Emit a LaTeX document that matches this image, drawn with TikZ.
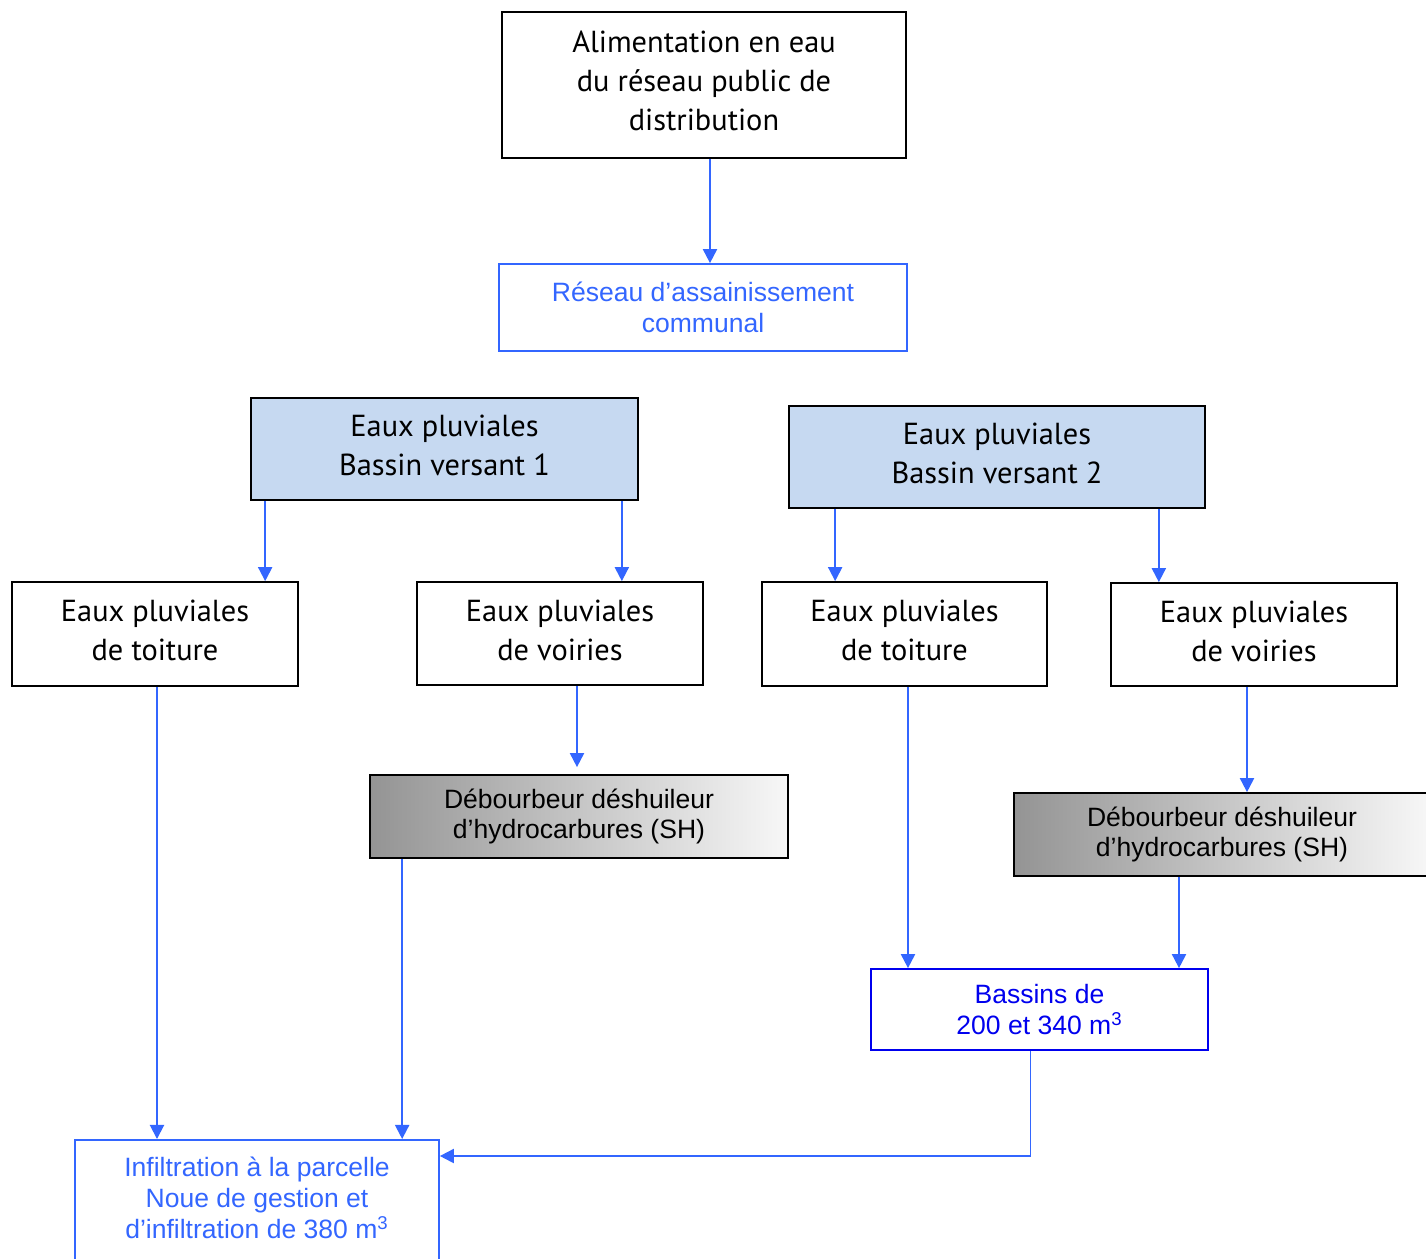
\documentclass[tikz,border=0pt]{standalone}
\usepackage{fontspec}
\setmainfont{Liberation Sans}
\newfontfamily\plainfont{PT Sans}
\usetikzlibrary{arrows.meta,calc}

\definecolor{flowblue}{RGB}{51,102,255}
\definecolor{deepblue}{RGB}{0,0,238}
\definecolor{basinfill}{RGB}{198,217,241}

\begin{document}
\begin{tikzpicture}[x=0.02cm,y=-0.02cm,
 flow/.style={draw=flowblue,line width=1.1pt,-{Triangle[width=8pt,length=8pt]}},
 blackbox/.style={draw,line width=1pt,inner sep=0pt,align=center,
   font=\plainfont\fontsize{17.3}{22}\selectfont},
 catbox/.style={blackbox,fill=basinfill},
 bluebox/.style={draw=flowblue,line width=1pt,inner sep=0pt,align=center,text=flowblue,
   font=\fontsize{15.1}{17.6}\selectfont},
 sepbox/.style={draw,line width=1pt,inner sep=0pt,align=center,
   left color=black!42,right color=black!3,font=\fontsize{15.1}{17.6}\selectfont}]
\useasboundingbox (0,0) rectangle (1426,1258);

\node[blackbox,minimum width=8.08cm,minimum height=2.92cm] (alim) at (704,85)
 {Alimentation en eau\\du réseau public de\\distribution\\[-17pt]};
\node[bluebox,minimum width=8.16cm,minimum height=1.74cm] (reseau) at (703,307.5)
 {Réseau d’assainissement\\communal};

\node[catbox,minimum width=7.74cm,minimum height=2.04cm] (bv1) at (444.5,449)
 {Eaux pluviales\\Bassin versant 1\\[-18pt]};
\node[catbox,minimum width=8.32cm,minimum height=2.04cm] (bv2) at (997,457)
 {Eaux pluviales\\Bassin versant 2\\[-18pt]};

\node[blackbox,minimum width=5.72cm,minimum height=2.08cm] (toit1) at (155,634)
 {Eaux pluviales\\de toiture\\[-18pt]};
\node[blackbox,minimum width=5.72cm,minimum height=2.06cm] (voir1) at (560,633.5)
 {Eaux pluviales\\de voiries\\[-18pt]};
\node[blackbox,minimum width=5.70cm,minimum height=2.08cm] (toit2) at (904.5,634)
 {Eaux pluviales\\de toiture\\[-18pt]};
\node[blackbox,minimum width=5.72cm,minimum height=2.06cm] (voir2) at (1254,634.5)
 {Eaux pluviales\\de voiries\\[-18pt]};

\node[sepbox,minimum width=8.36cm,minimum height=1.66cm] (deb1) at (579,816.5)
 {Débourbeur déshuileur\\d’hydrocarbures (SH)};
\node[sepbox,minimum width=8.32cm,minimum height=1.66cm] (deb2) at (1222,834.5)
 {Débourbeur déshuileur\\d’hydrocarbures (SH)};

\node[bluebox,draw=deepblue,text=deepblue,minimum width=6.74cm,minimum height=1.62cm]
 (bassins) at (1039.5,1009.5) {Bassins de\\200 et 340 m\textsuperscript{3}};

\node[bluebox,minimum width=7.28cm,minimum height=3.52cm,anchor=north] (infil) at (257,1139) {};
\node[bluebox,draw=none,anchor=north] (infiltxt) at ([yshift=-0.34cm]infil.north)
 {Infiltration à la parcelle\\Noue de gestion et\\d’infiltration de 380 m\textsuperscript{3}};

% liaisons
\draw[flow] ([xshift=0.12cm]alim.south) -- ([xshift=0.12cm]alim.south |- reseau.north);
\draw[flow] ([xshift=0.3cm]bv1.south west) -- ([xshift=0.3cm]bv1.south west |- toit1.north);
\draw[flow] ([xshift=-0.34cm]bv1.south east) -- ([xshift=-0.34cm]bv1.south east |- voir1.north);
\draw[flow] ([xshift=0.94cm]bv2.south west) -- ([xshift=0.94cm]bv2.south west |- toit2.north);
\draw[flow] ([xshift=-0.94cm]bv2.south east) -- ([xshift=-0.94cm]bv2.south east |- voir2.north);

\draw[flow] ([xshift=0.04cm]toit1.south) -- ([xshift=0.04cm]toit1.south |- infil.north);
\draw[flow,shorten >=0.14cm] ([xshift=0.34cm]voir1.south) -- ([xshift=0.34cm]voir1.south |- deb1.north);
\draw[flow] ([xshift=0.66cm]deb1.south west) -- ([xshift=0.66cm]deb1.south west |- infil.north);

\draw[flow] ([xshift=0.07cm]toit2.south) -- ([xshift=0.07cm]toit2.south |- bassins.north);
\draw[flow] ([xshift=-0.14cm]voir2.south) -- ([xshift=-0.14cm]voir2.south |- deb2.north);
\draw[flow] ([xshift=-0.86cm]deb2.south) -- ([xshift=-0.86cm]deb2.south |- bassins.north);
\draw[flow] ([xshift=-0.18cm]bassins.south) |- ([yshift=-0.34cm]infil.north east);
\end{tikzpicture}
\end{document}
